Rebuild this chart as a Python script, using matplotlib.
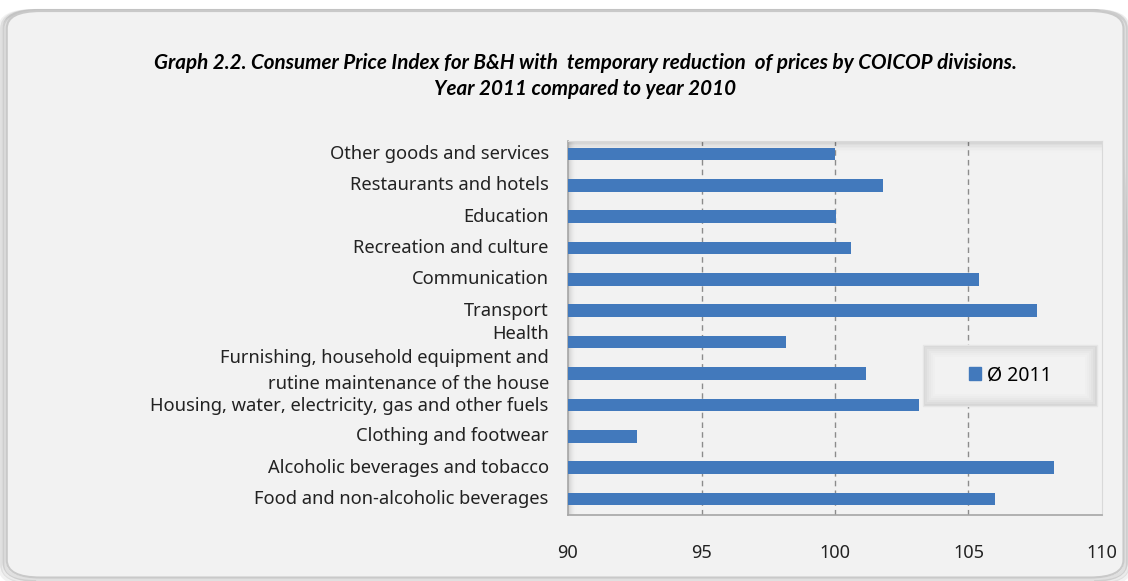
import numpy as np
import matplotlib.pyplot as plt
from matplotlib.patches import FancyBboxPatch, Rectangle

categories = [
    "Food and non-alcoholic beverages",
    "Alcoholic beverages and tobacco",
    "Clothing and footwear",
    "Housing, water, electricity, gas and other fuels",
    "Furnishing, household equipment and\nrutine maintenance of the house",
    "Health",
    "Transport",
    "Communication",
    "Recreation and culture",
    "Education",
    "Restaurants and hotels",
    "Other goods and services",
]
values_2011 = [106.0, 108.2, 92.6, 103.15, 101.15, 98.15, 107.55, 105.4, 100.6, 100.05, 101.8, 100.0]
xticks = [90, 95, 100, 105, 110]
series_name = "Ø 2011"

bar_color = "#4279BC"
bg = "#F2F2F2"
font = ["Noto Sans", "DejaVu Sans"]

fig = plt.figure(figsize=(11.28, 5.81), dpi=100)
fig.patch.set_facecolor("white")

# outer rounded panel with soft shadow
for i, a in enumerate([0.05, 0.08, 0.12]):
    d = 0.004 * (3 - i)
    fig.patches.append(FancyBboxPatch((0.006 - d / 2, 0.006 - d), 0.99 + d, 0.975 + d,
                                      boxstyle="round,pad=0,rounding_size=0.03",
                                      transform=fig.transFigure, facecolor="none",
                                      edgecolor="black", alpha=a, linewidth=3, zorder=-10))
fig.patches.append(FancyBboxPatch((0.006, 0.006), 0.99, 0.975,
                                  boxstyle="round,pad=0,rounding_size=0.03",
                                  transform=fig.transFigure, facecolor=bg,
                                  edgecolor="#C9C9C9", linewidth=1.5, zorder=-9))

title_font = ["Lato", "DejaVu Sans"]
fig.text(0.519, 0.891, "Graph 2.2. Consumer Price Index for B&H with  temporary reduction  of prices by COICOP divisions.",
         ha="center", va="center", fontsize=14.9, fontweight="bold", style="italic",
         family=title_font)
fig.text(0.519, 0.846, "Year 2011 compared to year 2010",
         ha="center", va="center", fontsize=14.9, fontweight="bold", style="italic",
         family=title_font)

ax = fig.add_axes([568 / 1128, 1 - 515 / 581, 534 / 1128, 374 / 581])
ax.set_zorder(2)
ax.set_facecolor(bg)

y = np.arange(len(categories))
ax.barh(y, np.array(values_2011) - 90, left=90, height=0.4, color=bar_color, zorder=3)
ax.set_xlim(90, 110)
ax.set_ylim(-0.51, len(categories) - 0.59)

ax.set_xticks(xticks)
ax.set_xticklabels([str(t) for t in xticks], family=font, fontsize=13, color="#222222")
ax.tick_params(axis="x", length=0, pad=21)
ax.set_yticks([])
for t in xticks[1:-1]:
    ax.axvline(t, color="#8C8C8C", linestyle=(0, (4, 3)), linewidth=1, zorder=1)

# category labels
offsets = {"Health": 0.26, categories[4]: 0.08, categories[3]: -0.05}
for yi, name in zip(y, categories):
    ax.text(-0.036, yi + offsets.get(name, 0), name, transform=ax.get_yaxis_transform(),
            ha="right", va="center", fontsize=13.2, family=font, color="#222222",
            multialignment="right", linespacing=1.55)

for s in ["top", "right"]:
    ax.spines[s].set_color("#D9D9D9")
for s in ["left", "bottom"]:
    ax.spines[s].set_color("#A6A6A6")
    ax.spines[s].set_linewidth(1.2)

# inner shadow on left/top edge of plot area
for k in range(8):
    a = 0.10 * (1 - k / 8)
    ax.add_patch(Rectangle((0.0, 0), 0.002 * (k + 1), 1, transform=ax.transAxes,
                           facecolor="black", alpha=a / 3, edgecolor="none", zorder=2))
    ax.add_patch(Rectangle((0, 1 - 0.004 * (k + 1)), 1, 0.004 * (k + 1), transform=ax.transAxes,
                           facecolor="black", alpha=a / 3, edgecolor="none", zorder=2))

# legend box with shaded edges
lx, ly, lw, lh = 0.665, 0.291, 0.326, 0.163
px, py = 1 / 534, 1 / 374
shades = ["#D6D6D6", "#DDDDDD", "#E3E3E3", "#E8E8E8", "#ECECEC", "#EFEFEF", "#F2F2F2"]
for k, c in enumerate(shades):
    ax.add_patch(Rectangle((lx + 2 * k * px, ly + 2 * k * py), lw - 4 * k * px, lh - 4 * k * py,
                           transform=ax.transAxes, facecolor=c, edgecolor="none", zorder=5))
ax.add_patch(Rectangle((lx, ly), lw, lh, transform=ax.transAxes, facecolor="none",
                       edgecolor="#E6E6E6", linewidth=1, zorder=6))
leg_handle = Rectangle((0, 0), 1, 1, color=bar_color)
leg = ax.legend([leg_handle], [series_name], loc="center",
                bbox_to_anchor=(lx + lw / 2, ly + lh / 2), frameon=False,
                prop={"family": font, "size": 14}, handlelength=0.65, handleheight=0.65,
                handletextpad=0.3)
leg.set_zorder(7)

fig.savefig("out.png", dpi=100, facecolor="white")
